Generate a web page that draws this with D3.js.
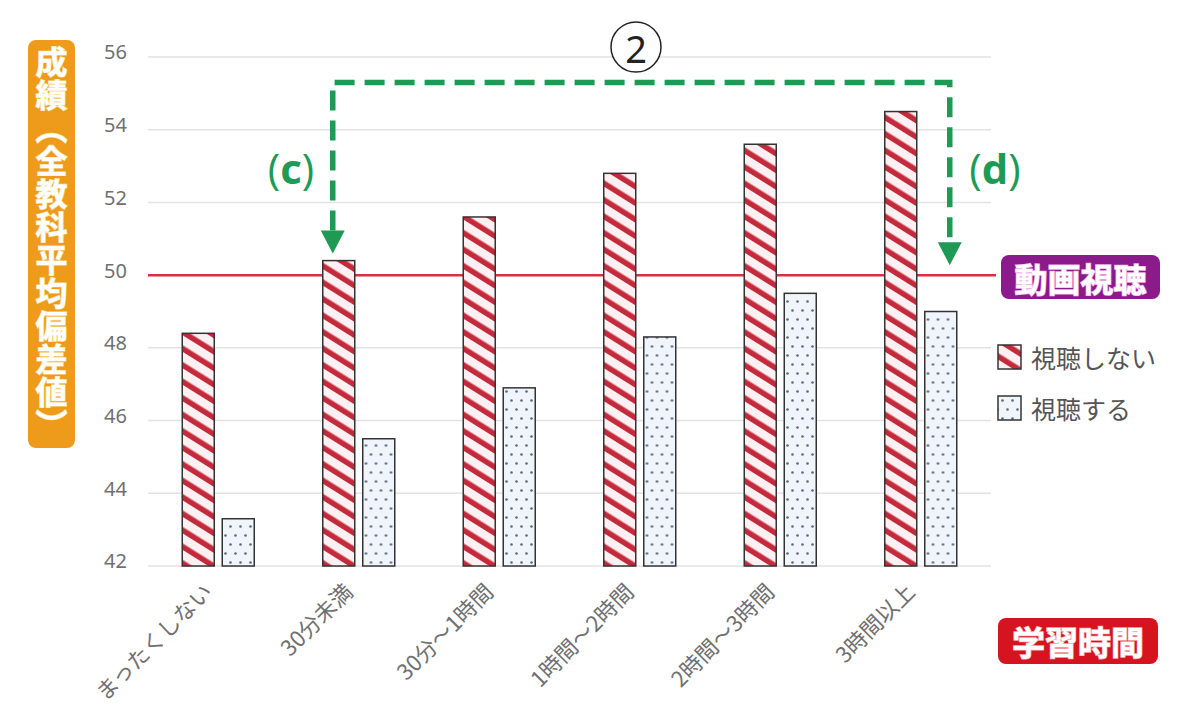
<!DOCTYPE html>
<html><head><meta charset="utf-8">
<script src="https://cdn.jsdelivr.net/npm/d3@7"></script>
<style>body{margin:0;background:#fff} svg{display:block}</style>
</head><body>
<svg id="chart" width="1200" height="728"></svg>
<script>
// ---- data ----
const categories = ["まったくしない","30分未満","30分～1時間","1時間～2時間","2時間～3時間","3時間以上"];
const seriesNames = ["視聴しない","視聴する"];
const noWatch = [48.4, 50.4, 51.6, 52.8, 53.6, 54.5];
const watch   = [43.3, 45.5, 46.9, 48.3, 49.5, 49.0];
const yTicks = [42, 44, 46, 48, 50, 52, 54, 56];
const refValue = 50;
const yTitle = "成績（全教科平均偏差値）";
const refLabel = "動画視聴";
const xTitle = "学習時間";
const circleLabel = "2";
const annotC = "c", annotD = "d";

// ---- setup ----
const svg = d3.select("#chart");
const JP = "'Noto Sans CJK JP','Noto Sans',sans-serif";
const green = "#1e9a55";

const x = d3.scaleBand().domain(categories).range([148, 991]).padding(0);
const xSub = d3.scaleBand().domain(seriesNames)
  .range([x.bandwidth()/2 - 36, x.bandwidth()/2 + 36]).paddingInner(0.2);
const y = d3.scaleLinear().domain([42, 56]).range([566, 57]);

// patterns
const defs = svg.append("defs");
const hatch = defs.append("pattern").attr("id","hatch").attr("patternUnits","userSpaceOnUse")
  .attr("width",14).attr("height",14).attr("patternTransform","rotate(-58)");
hatch.append("rect").attr("width",14).attr("height",14).attr("fill","#fdf0f2");
hatch.append("rect").attr("x",0).attr("y",0).attr("width",5.5).attr("height",14).attr("fill","#c32a3c");

const dots = defs.append("pattern").attr("id","dots").attr("patternUnits","userSpaceOnUse")
  .attr("width",10).attr("height",18);
dots.append("rect").attr("width",10).attr("height",18).attr("fill","#f0f5fb");
dots.append("circle").attr("cx",2.5).attr("cy",4.5).attr("r",1.3).attr("fill","#5d6775");
dots.append("circle").attr("cx",7.5).attr("cy",13.5).attr("r",1.3).attr("fill","#5d6775");

// gridlines
svg.append("g").selectAll("line").data(yTicks).join("line")
  .attr("x1",148).attr("x2",991)
  .attr("y1",d=>y(d)).attr("y2",d=>y(d))
  .attr("stroke","#e2e2e2").attr("stroke-width",1.5);

// y tick labels
svg.append("g").selectAll("text").data(yTicks).join("text")
  .attr("x",127).attr("y",d=>y(d)-3)
  .attr("text-anchor","end").attr("dominant-baseline","middle")
  .attr("font-family","'Noto Sans',sans-serif").attr("font-size",20)
  .attr("fill","#707070").text(d=>d);

// reference line
svg.append("line").attr("x1",148).attr("x2",996)
  .attr("y1",y(refValue)).attr("y2",y(refValue))
  .attr("stroke","#d8303f").attr("stroke-width",2.5);

// bars
const groups = svg.append("g").selectAll("g").data(categories).join("g")
  .attr("transform",d=>`translate(${x(d)},0)`);
groups.append("rect")
  .attr("x",xSub(seriesNames[0])).attr("width",xSub.bandwidth())
  .attr("y",(d,i)=>y(noWatch[i])).attr("height",(d,i)=>y(42)-y(noWatch[i]))
  .attr("fill","url(#hatch)").attr("stroke","#333").attr("stroke-width",1.5);
groups.append("rect")
  .attr("x",xSub(seriesNames[1])).attr("width",xSub.bandwidth())
  .attr("y",(d,i)=>y(watch[i])).attr("height",(d,i)=>y(42)-y(watch[i]))
  .attr("fill","url(#dots)").attr("stroke","#333").attr("stroke-width",1.5);

// x labels
svg.append("g").selectAll("text").data(categories).join("text")
  .attr("transform",d=>`translate(${x(d)+x.bandwidth()/2-10},588) rotate(-45)`)
  .attr("text-anchor","end").attr("dy","0.35em")
  .attr("font-family",JP).attr("font-size",22).attr("fill","#707070")
  .text(d=>d);

// y title box
svg.append("rect").attr("x",28).attr("y",40).attr("width",47).attr("height",408)
  .attr("rx",8).attr("fill","#ee9b1c");
svg.append("text").attr("x",51.5).attr("y",244)
  .style("writing-mode","vertical-rl")
  .attr("text-anchor","middle").attr("dominant-baseline","central")
  .attr("font-family",JP).attr("font-size",32).attr("font-weight","bold")
  .attr("letter-spacing",1)
  .attr("fill","#fff").attr("stroke","#fbe3a6").attr("stroke-width",1.2)
  .attr("paint-order","stroke")
  .text(yTitle);

// ref label box
svg.append("rect").attr("x",1001).attr("y",255).attr("width",159).attr("height",44)
  .attr("rx",8).attr("fill","#8b1a8b");
svg.append("text").attr("x",1080.5).attr("y",278)
  .attr("text-anchor","middle").attr("dominant-baseline","central")
  .attr("font-family",JP).attr("font-size",33).attr("font-weight","bold")
  .attr("fill","#fff").attr("stroke","#f6b3ee").attr("stroke-width",1.5).attr("paint-order","stroke")
  .text(refLabel);

// x title box
svg.append("rect").attr("x",998).attr("y",618).attr("width",160).attr("height",46)
  .attr("rx",8).attr("fill","#d5141f");
svg.append("text").attr("x",1078).attr("y",641)
  .attr("text-anchor","middle").attr("dominant-baseline","central")
  .attr("font-family",JP).attr("font-size",33).attr("font-weight","bold")
  .attr("fill","#fff").attr("stroke","#f9b0b5").attr("stroke-width",1.5).attr("paint-order","stroke")
  .text(xTitle);

// legend
const legend = svg.append("g");
[["url(#hatch)",357],["url(#dots)",408]].forEach(([f,cy],i)=>{
  legend.append("rect").attr("x",998).attr("y",cy-12).attr("width",23).attr("height",24)
    .attr("fill",f).attr("stroke","#333").attr("stroke-width",1.5);
  legend.append("text").attr("x",1031).attr("y",cy)
    .attr("dominant-baseline","central")
    .attr("font-family",JP).attr("font-size",25).attr("fill","#555")
    .text(seriesNames[i]);
});

// annotation: dashed bracket with arrows
const lx = x(categories[1]) + x.bandwidth()/2 - 26;
const rx = x(categories[5]) + x.bandwidth()/2 + 29;
const topY = y(55.3);
const lTip = y(noWatch[1]) - 7, rTip = y(refValue) - 10;
const ah = 23, aw = 12;
svg.append("path")
  .attr("d",`M${lx},${lTip-ah}V${topY}H${rx}V${rTip-ah}`)
  .attr("fill","none").attr("stroke",green).attr("stroke-width",5.5)
  .attr("stroke-dasharray","20 10");
[[lx,lTip],[rx,rTip]].forEach(([ax,ay])=>{
  svg.append("path").attr("d",`M${ax-aw},${ay-ah}L${ax+aw},${ay-ah}L${ax},${ay}Z`).attr("fill",green);
});

// (c) and (d)
function paren(cx, letter){
  const t = svg.append("text").attr("x",cx).attr("y",184)
    .attr("text-anchor","middle").attr("font-family","'Open Sans',sans-serif")
    .attr("font-size",42).attr("fill",green);
  t.append("tspan").attr("font-weight","normal").text("(");
  t.append("tspan").attr("font-weight","bold").text(letter);
  t.append("tspan").attr("font-weight","normal").text(")");
}
paren(291, annotC);
paren(995, annotD);

// circled 2
svg.append("circle").attr("cx",636).attr("cy",47).attr("r",25)
  .attr("fill","#fff").attr("stroke","#222").attr("stroke-width",1.5);
svg.append("text").attr("x",636).attr("y",48)
  .attr("text-anchor","middle").attr("dominant-baseline","central")
  .attr("font-family","'Noto Sans',sans-serif").attr("font-size",38).attr("fill","#222")
  .text(circleLabel);
</script>
</body></html>
